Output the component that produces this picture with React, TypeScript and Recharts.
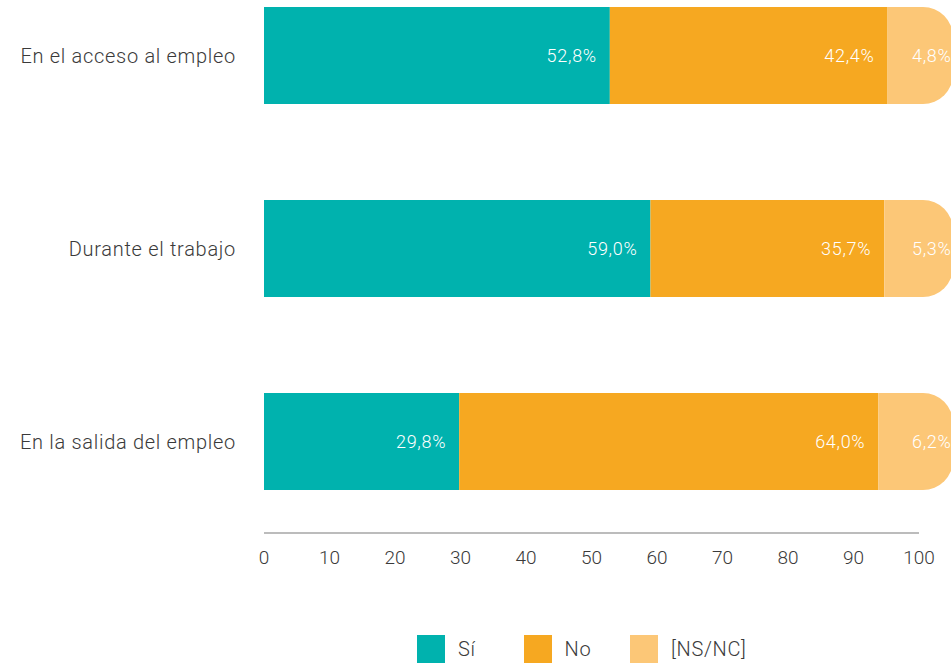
import React from 'react';
import { BarChart, Bar, XAxis, YAxis, LabelList } from 'recharts';

const categories = ['En el acceso al empleo', 'Durante el trabajo', 'En la salida del empleo'];
const siValues = [52.8, 59.0, 29.8];
const noValues = [42.4, 35.7, 64.0];
const nsncValues = [4.8, 5.3, 6.2];
const xTicks = [0, 10, 20, 30, 40, 50, 60, 70, 80, 90, 100];

const series = [
  { key: 'si', name: 'Sí', color: '#00B2AE' },
  { key: 'no', name: 'No', color: '#F6A821' },
  { key: 'nsnc', name: '[NS/NC]', color: '#FCC777' },
];

const data = categories.map((name, i) => ({
  name,
  si: siValues[i],
  no: noValues[i],
  nsnc: nsncValues[i],
}));

const FONT = 'Roboto, "Liberation Sans", sans-serif';

const fmt = (v: number) => v.toFixed(1).replace('.', ',') + '%';

// label near the right end of a segment
const EndLabel = (props: any) => {
  const { x, y, width, height, value } = props;
  return (
    <text
      x={x + width - 13}
      y={y + height / 2}
      fill="#fff"
      fontSize={18}
      fontFamily={FONT}
      fontWeight={300}
      letterSpacing={0.7}
      textAnchor="end"
      dominantBaseline="central"
    >
      {fmt(value)}
    </text>
  );
};

const LastLabel = (props: any) => {
  const { x, y, width, height, value } = props;
  return (
    <text
      x={x + width - 7}
      y={y + height / 2}
      fill="#fff"
      fontSize={18}
      fontFamily={FONT}
      fontWeight={300}
      letterSpacing={0.7}
      textAnchor="start"
      dominantBaseline="central"
    >
      {fmt(value)}
    </text>
  );
};

// last segment runs past the axis end with a rounded right side
const RoundedEnd = (props: any) => {
  const { x, y, width, height, fill } = props;
  const r = 30;
  const right = x + width + 34;
  const d = `M${x},${y} H${right - r} A${r},${r} 0 0 1 ${right},${y + r} V${y + height - r} A${r},${r} 0 0 1 ${right - r},${y + height} H${x} Z`;
  return <path d={d} fill={fill} />;
};

export default function App() {
  return (
    <div style={{ position: 'absolute', left: 0, top: 0, width: 951, height: 665, overflow: 'hidden', background: '#fff' }}>
      <BarChart
        width={951}
        height={665}
        data={data}
        layout="vertical"
        margin={{ top: 0, right: 32, left: 0, bottom: 92 }}
        barSize={97}
      >
        <XAxis
          type="number"
          domain={[0, 100]}
          ticks={xTicks}
          interval={0}
          height={40}
          tickLine={false}
          tickSize={0}
          tickMargin={18}
          axisLine={{ stroke: '#A6A6A6', strokeWidth: 1.5 }}
          tick={{ fill: '#3a3a3a', fontSize: 19, fontFamily: FONT, fontWeight: 300 }}
        />
        <YAxis
          type="category"
          dataKey="name"
          width={264}
          axisLine={false}
          tickLine={false}
          tickSize={0}
          tickMargin={28}
          padding={{ top: -41, bottom: -5 }}
          tick={{ fill: '#3a3a3a', fontSize: 20, fontFamily: FONT, fontWeight: 300, letterSpacing: 0.7 }}
        />
        <Bar dataKey="si" name="Sí" stackId="a" fill="#00B2AE" isAnimationActive={false}>
          <LabelList dataKey="si" content={<EndLabel />} />
        </Bar>
        <Bar dataKey="no" name="No" stackId="a" fill="#F6A821" isAnimationActive={false}>
          <LabelList dataKey="no" content={<EndLabel />} />
        </Bar>
        <Bar dataKey="nsnc" name="[NS/NC]" stackId="a" fill="#FCC777" shape={<RoundedEnd />} isAnimationActive={false}>
          <LabelList dataKey="nsnc" content={<LastLabel />} />
        </Bar>
      </BarChart>
      <div
        style={{
          position: 'absolute',
          left: 417,
          top: 635,
          display: 'flex',
          fontFamily: FONT,
          fontWeight: 300,
          fontSize: 20,
          letterSpacing: 0.7,
          color: '#3a3a3a',
        }}
      >
        {series.map((s) => (
          <div key={s.key} style={{ display: 'flex', alignItems: 'center', width: s.key === 'nsnc' ? 140 : 106.5 }}>
            <span style={{ display: 'inline-block', width: 28, height: 28, background: s.color, marginRight: 13 }} />
            <span>{s.name}</span>
          </div>
        ))}
      </div>
    </div>
  );
}
